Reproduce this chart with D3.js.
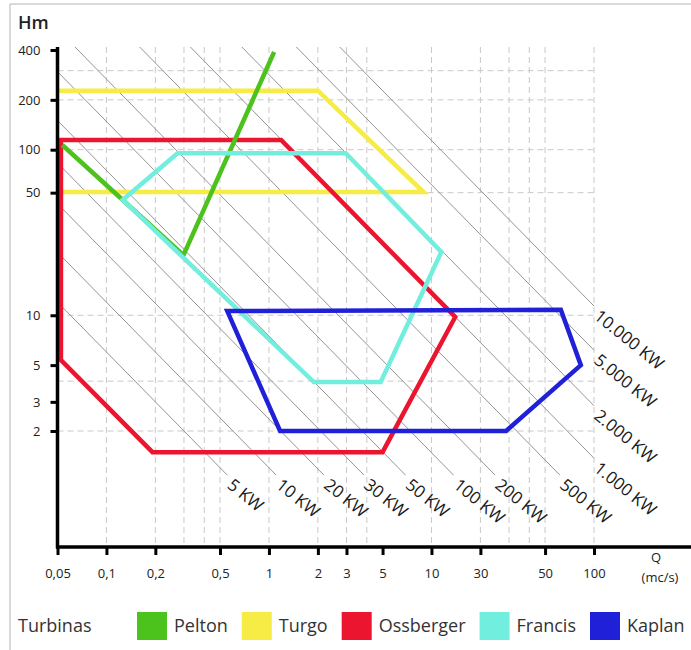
<!DOCTYPE html>
<html>
<head>
<meta charset="utf-8">
<script src="https://cdn.jsdelivr.net/npm/d3@7"></script>
<style>
  body { margin: 0; background: #fff; }
  svg { display: block; font-family: "Open Sans", sans-serif; }
</style>
</head>
<body>
<div id="chart"></div>
<script>
// turbine application ranges, [Q (m3/s), H (m)]
const turbineNames = ["Pelton", "Turgo", "Ossberger", "Francis", "Kaplan"];
const turbineColors = ["#4cc21c", "#f7eb45", "#ec1530", "#72eedf", "#2020d8"];
const pelton = [[0.0535, 106.7], [0.126, 49.7], [0.298, 23.1], [1.076, 389]];
const turgo = [[0.05, 227], [2.0, 227], [8.93, 55.5], [0.05, 55.5]];
const ossberger = [[0.0525, 114.4], [1.188, 114.4], [14.0, 9.76], [5.0, 1.49], [0.192, 1.49], [0.0525, 5.37]];
const francis = [[0.274, 95.1], [2.97, 95.1], [11.5, 24.1], [4.87, 3.95], [1.89, 3.95], [0.126, 49.7]];
const kaplan = [[0.554, 10.6], [62.5, 10.8], [83.0, 5.0], [28.8, 2.0], [1.171, 2.0]];

// iso-power lines: label and the Q*H product each line is drawn at
const powerLabels = ["5 KW", "10 KW", "20 KW", "30 KW", "50 KW", "100 KW", "200 KW", "500 KW",
                     "1.000 KW", "2.000 KW", "5.000 KW", "10.000 KW"];
const powerQH = [0.60, 1.20, 2.36, 4.16, 7.5, 14.8, 26.7, 66.8, 137, 284, 615, 1137];

// axis ticks as printed (the printed "30" sits on 20 and "50" on ~55)
const xTickValues = [0.05, 0.1, 0.2, 0.5, 1, 2, 3, 5, 10, 20, 50, 100];
const xTickLabels = ["0,05", "0,1", "0,2", "0,5", "1", "2", "3", "5", "10", "30", "50", "100"];
const yTickValues = [400, 200, 100, 55, 10, 5, 3, 2];
const yTickLabels = ["400", "200", "100", "50", "10", "5", "3", "2"];
const xGridValues = [0.1, 0.2, 0.3, 0.4, 0.5, 1, 2, 3, 4, 10, 20, 30, 40, 50, 100];
const yGridValues = [300, 200, 100, 55, 10, 4, 2];

const widthValue = 691;
const heightValue = 650;
const plotTop = 47;
const plotBottom = 547;
const lineBottom = 475; // power lines stop here

const svg = d3.select("#chart")
  .append("svg")
  .attr("width", widthValue)
  .attr("height", heightValue);

svg.append("rect").attr("width", widthValue).attr("height", heightValue).attr("fill", "#fff");

// frame
svg.append("path")
  .attr("d", `M10,${heightValue} V4 H${widthValue}`)
  .attr("fill", "none")
  .attr("stroke", "#b4b4b4")
  .attr("stroke-width", 1);

const xScale = d3.scaleLog().domain([0.05, 100]).range([57.5, 594]);
const yScale = d3.scaleLog().domain([2, 400]).range([431, 50]);

const xLeft = xScale(0.05);
const xRight = xScale(100);

// dashed grid
const grid = svg.append("g")
  .attr("stroke", "#c9c9c9")
  .attr("stroke-width", 1)
  .attr("stroke-dasharray", "6,4");

grid.selectAll("line.v")
  .data(xGridValues)
  .enter()
  .append("line")
    .attr("class", "v")
    .attr("x1", d => xScale(d)).attr("x2", d => xScale(d))
    .attr("y1", plotTop).attr("y2", plotBottom);

grid.selectAll("line.h")
  .data(yGridValues)
  .enter()
  .append("line")
    .attr("class", "h")
    .attr("x1", xLeft).attr("x2", xRight)
    .attr("y1", d => yScale(d)).attr("y2", d => yScale(d));

// iso-power lines, H = QH / Q, clipped to the plot box
const hHigh = yScale.invert(plotTop);
const hLow = yScale.invert(lineBottom);

const powerLines = powerQH.map(function(qh, i) {
  const q0 = Math.max(0.05, qh / hHigh);
  const q1 = Math.min(100, qh / hLow);
  return { label: powerLabels[i], start: [q0, qh / q0], end: [q1, qh / q1] };
});

svg.append("g")
  .selectAll("line")
  .data(powerLines)
  .enter()
  .append("line")
    .attr("x1", d => xScale(d.start[0]))
    .attr("y1", d => yScale(d.start[1]))
    .attr("x2", d => xScale(d.end[0]))
    .attr("y2", d => yScale(d.end[1]))
    .attr("stroke", "#949494")
    .attr("stroke-width", 1);

svg.append("g")
  .selectAll("text")
  .data(powerLines)
  .enter()
  .append("text")
    .attr("transform", function(d) {
      const x = xScale(d.end[0]) - 1;
      const y = yScale(d.end[1]) + 12;
      return `translate(${x},${y}) rotate(39)`;
    })
    .attr("font-size", 17)
    .attr("fill", "#1a1a1a")
    .text(d => d.label);

// turbine ranges
const ranges = [
  { name: "Turgo", pts: turgo, closed: false },
  { name: "Ossberger", pts: ossberger, closed: true },
  { name: "Pelton", pts: pelton, closed: false },
  { name: "Francis", pts: francis, closed: true },
  { name: "Kaplan", pts: kaplan, closed: true }
];

const color = d3.scaleOrdinal().domain(turbineNames).range(turbineColors);
const line = d3.line().x(d => xScale(d[0])).y(d => yScale(d[1]));

svg.append("g")
  .selectAll("path")
  .data(ranges)
  .enter()
  .append("path")
    .attr("d", d => line(d.pts) + (d.closed ? "Z" : ""))
    .attr("fill", "none")
    .attr("stroke", d => color(d.name))
    .attr("stroke-width", 4.5)
    .attr("stroke-linejoin", "miter");

// axes
const xAxis = svg.append("g")
  .attr("transform", `translate(0,${plotBottom})`)
  .call(d3.axisBottom(xScale)
    .tickValues(xTickValues)
    .tickFormat((d, i) => xTickLabels[i])
    .tickSize(8)
    .tickPadding(14));

const yAxis = svg.append("g")
  .attr("transform", `translate(${xLeft},0)`)
  .call(d3.axisLeft(yScale)
    .tickValues(yTickValues)
    .tickFormat((d, i) => yTickLabels[i])
    .tickSize(7)
    .tickPadding(10));

[xAxis, yAxis].forEach(function(a) {
  a.select(".domain").remove();
  a.selectAll(".tick line").attr("stroke", "#000").attr("stroke-width", 3);
  a.selectAll(".tick text")
    .attr("fill", "#222")
    .attr("font-size", 13)
    .attr("font-family", "Open Sans, sans-serif");
});

svg.append("line")
  .attr("x1", xLeft).attr("x2", xLeft)
  .attr("y1", plotTop).attr("y2", plotBottom + 1.5)
  .attr("stroke", "#000").attr("stroke-width", 3.5);

svg.append("line")
  .attr("x1", xLeft - 1.5).attr("x2", widthValue)
  .attr("y1", plotBottom).attr("y2", plotBottom)
  .attr("stroke", "#000").attr("stroke-width", 3.5);

// axis titles
svg.append("text")
  .attr("x", 18).attr("y", 29)
  .attr("font-size", 18)
  .attr("font-weight", 600)
  .attr("fill", "#222")
  .text("Hm");

svg.append("text")
  .attr("x", 656).attr("y", 562)
  .attr("text-anchor", "middle")
  .attr("font-size", 13)
  .attr("fill", "#222")
  .text("Q");

svg.append("text")
  .attr("x", 660).attr("y", 582)
  .attr("text-anchor", "middle")
  .attr("font-size", 13)
  .attr("fill", "#222")
  .text("(mc/s)");

// legend
const legend = svg.append("g").attr("transform", "translate(0,626)");

legend.append("text")
  .attr("x", 18).attr("y", 6)
  .attr("font-size", 18)
  .attr("fill", "#333")
  .text("Turbinas");

let lx = 137;
turbineNames.forEach(function(name) {
  legend.append("rect")
    .attr("x", lx).attr("y", -14)
    .attr("width", 30).attr("height", 28)
    .attr("fill", color(name));
  const t = legend.append("text")
    .attr("x", lx + 37).attr("y", 6)
    .attr("font-size", 18)
    .attr("fill", "#333")
    .text(name);
  lx += 37 + t.node().getComputedTextLength() + 14;
});
</script>
</body>
</html>
